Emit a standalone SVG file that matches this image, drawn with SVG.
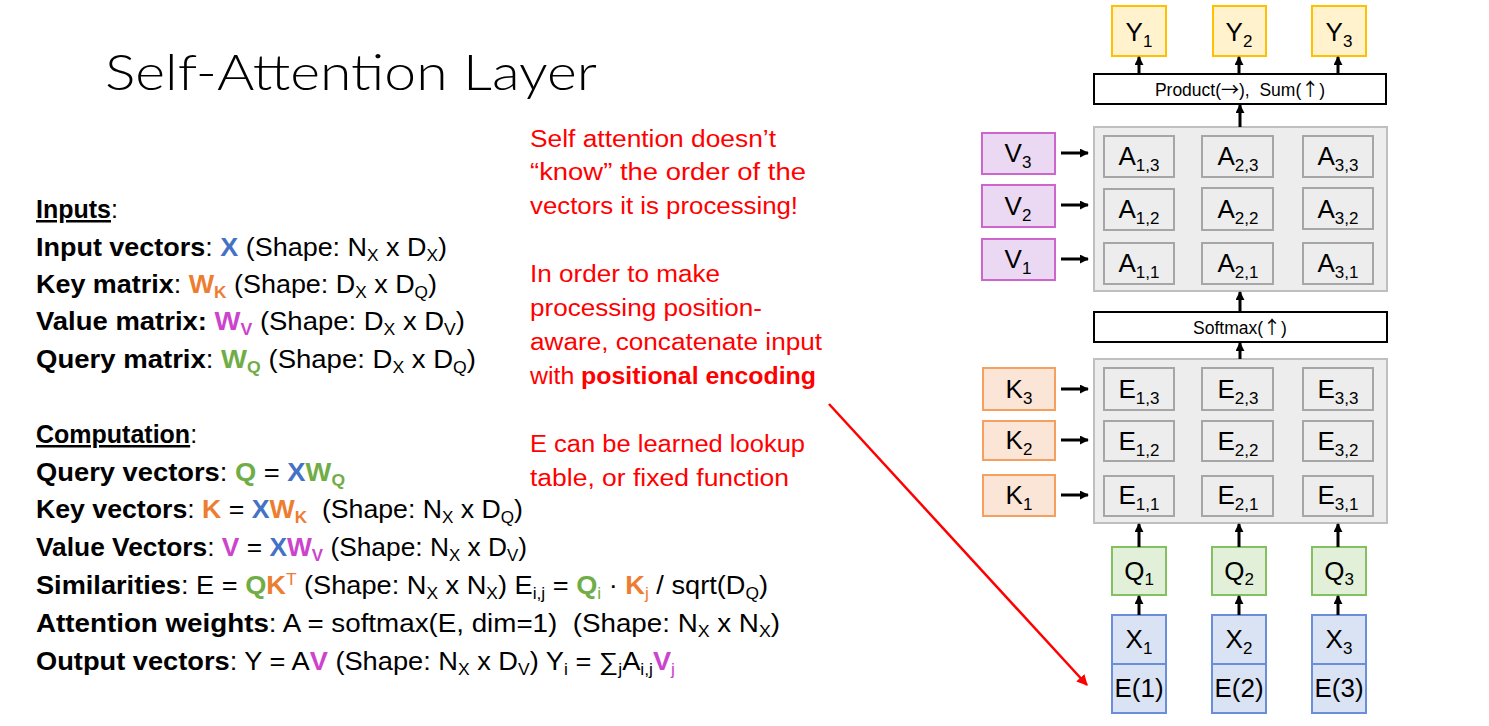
<svg xmlns="http://www.w3.org/2000/svg" width="1489" height="726" viewBox="0 0 1489 726">
<style>
text{font-family:"Liberation Sans",Arial,sans-serif;fill:#000}
.title{font-family:Lato,"Liberation Sans",sans-serif;font-weight:300;font-size:50px}
.t{font-size:25px}
.b{font-weight:bold}
.sb{font-size:16px}
.red{font-size:23.5px;fill:#FF0000}
.red tspan{fill:#FF0000}
.lab{font-size:26px;text-anchor:middle}
.ls{font-size:17px}
.op{font-size:17.5px;text-anchor:middle}
.ag{font-family:"Noto Sans CJK SC","DejaVu Sans",sans-serif;font-size:18px}
.gbox{fill:#EDEDED;stroke:#BFBFBF;stroke-width:2}
.cell{fill:#EDEDED;stroke:#A6A6A6;stroke-width:2}
.wbox{fill:#FFFFFF;stroke:#000;stroke-width:2}
.ybox{fill:#FFF2CC;stroke:#FFC000;stroke-width:2}
.vbox{fill:#EBD9F3;stroke:#CC66CC;stroke-width:2}
.kbox{fill:#FBE5D6;stroke:#F4A060;stroke-width:2}
.qbox{fill:#E2F0D9;stroke:#82C060;stroke-width:2}
.xbox{fill:#DAE3F3;stroke:#6A8FD8;stroke-width:2}
.arr{stroke:#000;stroke-width:3;fill:none;marker-end:url(#ah)}
.rarr{stroke:#FF0000;stroke-width:2.5;fill:none;marker-end:url(#rah)}
.cb{fill:#4472C4}.co{fill:#ED7D31}.cp{fill:#CC44CC}.cg{fill:#70AD47}
</style>
<defs>
<marker id="ah" viewBox="0 0 10 10" refX="9" refY="5" markerWidth="9" markerHeight="9" markerUnits="userSpaceOnUse" orient="auto"><path d="M0,0 L10,5 L0,10 z" fill="#000"/></marker>
<marker id="rah" viewBox="0 0 10 10" refX="9" refY="5" markerWidth="11" markerHeight="11" markerUnits="userSpaceOnUse" orient="auto"><path d="M0,0 L10,5 L0,10 z" fill="#FF0000"/></marker>
</defs>
<rect width="1489" height="726" fill="#FFFFFF"/>

<g id="title"><text class="title" x="105" y="90" textLength="492" lengthAdjust="spacingAndGlyphs">Self-Attention Layer</text></g>

<g id="left-text">
<text class="t" x="36" y="218"><tspan class="b" text-decoration="underline">Inputs</tspan>:</text>
<text class="t" x="36" y="256" textLength="411" lengthAdjust="spacingAndGlyphs" xml:space="preserve"><tspan class="b">Input vectors</tspan>: <tspan class="b cb">X</tspan> (Shape: N<tspan class="sb" dy="5">X</tspan><tspan dy="-5"> x D</tspan><tspan class="sb" dy="5">X</tspan><tspan dy="-5">)</tspan></text>
<text class="t" x="36" y="293" textLength="401" lengthAdjust="spacingAndGlyphs" xml:space="preserve"><tspan class="b">Key matrix</tspan>: <tspan class="b co">W</tspan><tspan class="b sb co" dy="5">K</tspan><tspan dy="-5"> (Shape: D</tspan><tspan class="sb" dy="5">X</tspan><tspan dy="-5"> x D</tspan><tspan class="sb" dy="5">Q</tspan><tspan dy="-5">)</tspan></text>
<text class="t" x="36" y="330" textLength="429" lengthAdjust="spacingAndGlyphs" xml:space="preserve"><tspan class="b">Value matrix: </tspan><tspan class="b cp">W</tspan><tspan class="b sb cp" dy="5">V</tspan><tspan dy="-5"> (Shape: D</tspan><tspan class="sb" dy="5">X</tspan><tspan dy="-5"> x D</tspan><tspan class="sb" dy="5">V</tspan><tspan dy="-5">)</tspan></text>
<text class="t" x="36" y="368" textLength="440" lengthAdjust="spacingAndGlyphs" xml:space="preserve"><tspan class="b">Query matrix</tspan>: <tspan class="b cg">W</tspan><tspan class="b sb cg" dy="5">Q</tspan><tspan dy="-5"> (Shape: D</tspan><tspan class="sb" dy="5">X</tspan><tspan dy="-5"> x D</tspan><tspan class="sb" dy="5">Q</tspan><tspan dy="-5">)</tspan></text>

<text class="t" x="36" y="443"><tspan class="b" text-decoration="underline">Computation</tspan>:</text>
<text class="t" x="36" y="481" textLength="309" lengthAdjust="spacingAndGlyphs" xml:space="preserve"><tspan class="b">Query vectors</tspan>: <tspan class="b cg">Q</tspan> = <tspan class="b cb">X</tspan><tspan class="b cg">W</tspan><tspan class="b sb cg" dy="5">Q</tspan></text>
<text class="t" x="36" y="518" textLength="487" lengthAdjust="spacingAndGlyphs" xml:space="preserve"><tspan class="b">Key vectors</tspan>: <tspan class="b co">K</tspan> = <tspan class="b cb">X</tspan><tspan class="b co">W</tspan><tspan class="b sb co" dy="5">K</tspan><tspan dy="-5">  (Shape: N</tspan><tspan class="sb" dy="5">X</tspan><tspan dy="-5"> x D</tspan><tspan class="sb" dy="5">Q</tspan><tspan dy="-5">)</tspan></text>
<text class="t" x="36" y="556" textLength="491" lengthAdjust="spacingAndGlyphs" xml:space="preserve"><tspan class="b">Value Vectors</tspan>: <tspan class="b cp">V</tspan> = <tspan class="b cb">X</tspan><tspan class="b cp">W</tspan><tspan class="b sb cp" dy="5">V</tspan><tspan dy="-5"> (Shape: N</tspan><tspan class="sb" dy="5">X</tspan><tspan dy="-5"> x D</tspan><tspan class="sb" dy="5">V</tspan><tspan dy="-5">)</tspan></text>
<text class="t" x="36" y="594" textLength="732" lengthAdjust="spacingAndGlyphs" xml:space="preserve"><tspan class="b">Similarities</tspan>: E = <tspan class="b cg">Q</tspan><tspan class="b co">K</tspan><tspan class="sb co" dy="-9">T</tspan><tspan dy="9"> (Shape: N</tspan><tspan class="sb" dy="5">X</tspan><tspan dy="-5"> x N</tspan><tspan class="sb" dy="5">X</tspan><tspan dy="-5">) E</tspan><tspan class="sb" dy="5">i,j</tspan><tspan dy="-5"> = </tspan><tspan class="b cg">Q</tspan><tspan class="sb cg" dy="5">i</tspan><tspan dy="-5"> · </tspan><tspan class="b co">K</tspan><tspan class="sb co" dy="5">j</tspan><tspan dy="-5"> / sqrt(D</tspan><tspan class="sb" dy="5">Q</tspan><tspan dy="-5">)</tspan></text>
<text class="t" x="36" y="632" textLength="744" lengthAdjust="spacingAndGlyphs" xml:space="preserve"><tspan class="b">Attention weights</tspan>: A = softmax(E, dim=1)  (Shape: N<tspan class="sb" dy="5">X</tspan><tspan dy="-5"> x N</tspan><tspan class="sb" dy="5">X</tspan><tspan dy="-5">)</tspan></text>
<text class="t" x="36" y="670" textLength="639" lengthAdjust="spacingAndGlyphs" xml:space="preserve"><tspan class="b">Output vectors</tspan>: Y = A<tspan class="b cp">V</tspan> (Shape: N<tspan class="sb" dy="5">X</tspan><tspan dy="-5"> x D</tspan><tspan class="sb" dy="5">V</tspan><tspan dy="-5">) Y</tspan><tspan class="sb" dy="5">i</tspan><tspan dy="-5"> = ∑</tspan><tspan class="sb" dy="5">j</tspan><tspan dy="-5">A</tspan><tspan class="sb" dy="5">i,j</tspan><tspan class="b cp" dy="-5">V</tspan><tspan class="sb cp" dy="5">j</tspan></text>
</g>

<g id="note">
<text class="red" x="530" y="147" textLength="246" lengthAdjust="spacingAndGlyphs">Self attention doesn’t</text>
<text class="red" x="530" y="180" textLength="276" lengthAdjust="spacingAndGlyphs">“know” the order of the</text>
<text class="red" x="530" y="214" textLength="268" lengthAdjust="spacingAndGlyphs">vectors it is processing!</text>
<text class="red" x="530" y="282" textLength="190" lengthAdjust="spacingAndGlyphs">In order to make</text>
<text class="red" x="530" y="316" textLength="232" lengthAdjust="spacingAndGlyphs">processing position-</text>
<text class="red" x="530" y="350" textLength="292" lengthAdjust="spacingAndGlyphs">aware, concatenate input</text>
<text class="red" x="530" y="384" textLength="286" lengthAdjust="spacingAndGlyphs">with <tspan class="b">positional encoding</tspan></text>
<text class="red" x="530" y="452" textLength="275" lengthAdjust="spacingAndGlyphs">E can be learned lookup</text>
<text class="red" x="530" y="486" textLength="259" lengthAdjust="spacingAndGlyphs">table, or fixed function</text>
</g>

<g id="Y1"><rect class="ybox" x="1112" y="6" width="54" height="50"/><text class="lab" x="1139" y="41">Y<tspan class="ls" dy="6">1</tspan></text></g>
<g id="Y2"><rect class="ybox" x="1213" y="6" width="53" height="50"/><text class="lab" x="1239" y="41">Y<tspan class="ls" dy="6">2</tspan></text></g>
<g id="Y3"><rect class="ybox" x="1312" y="6" width="54" height="50"/><text class="lab" x="1339" y="41">Y<tspan class="ls" dy="6">3</tspan></text></g>

<g id="product"><rect class="wbox" x="1094" y="74" width="292" height="30"/><text class="op" x="1240" y="96" xml:space="preserve">Product(<tspan class="ag">→</tspan>),  Sum(<tspan class="ag">↑</tspan>)</text></g>

<g id="A-matrix">
<rect class="gbox" x="1094" y="127" width="293" height="164"/>
<rect class="cell" x="1104" y="136" width="70" height="41"/><text class="lab" x="1139" y="165">A<tspan class="ls" dy="6">1,3</tspan></text>
<rect class="cell" x="1202" y="136" width="71" height="41"/><text class="lab" x="1238" y="165">A<tspan class="ls" dy="6">2,3</tspan></text>
<rect class="cell" x="1303" y="136" width="70" height="41"/><text class="lab" x="1338" y="165">A<tspan class="ls" dy="6">3,3</tspan></text>
<rect class="cell" x="1104" y="189" width="70" height="41"/><text class="lab" x="1139" y="218">A<tspan class="ls" dy="6">1,2</tspan></text>
<rect class="cell" x="1202" y="188" width="71" height="42"/><text class="lab" x="1238" y="218">A<tspan class="ls" dy="6">2,2</tspan></text>
<rect class="cell" x="1303" y="188" width="70" height="41"/><text class="lab" x="1338" y="218">A<tspan class="ls" dy="6">3,2</tspan></text>
<rect class="cell" x="1104" y="243" width="70" height="41"/><text class="lab" x="1139" y="272">A<tspan class="ls" dy="6">1,1</tspan></text>
<rect class="cell" x="1202" y="243" width="71" height="41"/><text class="lab" x="1238" y="272">A<tspan class="ls" dy="6">2,1</tspan></text>
<rect class="cell" x="1303" y="243" width="70" height="41"/><text class="lab" x="1338" y="272">A<tspan class="ls" dy="6">3,1</tspan></text>
</g>

<g id="V3"><rect class="vbox" x="982" y="133" width="73" height="41"/><text class="lab" x="1018" y="162">V<tspan class="ls" dy="6">3</tspan></text></g>
<g id="V2"><rect class="vbox" x="982" y="185" width="73" height="42"/><text class="lab" x="1018" y="215">V<tspan class="ls" dy="6">2</tspan></text></g>
<g id="V1"><rect class="vbox" x="982" y="239" width="73" height="41"/><text class="lab" x="1018" y="268">V<tspan class="ls" dy="6">1</tspan></text></g>

<g id="softmax"><rect class="wbox" x="1094" y="312" width="293" height="30"/><text class="op" x="1240" y="334">Softmax(<tspan class="ag">↑</tspan>)</text></g>

<g id="E-matrix">
<rect class="gbox" x="1094" y="359" width="293" height="164"/>
<rect class="cell" x="1104" y="368" width="70" height="42"/><text class="lab" x="1139" y="398">E<tspan class="ls" dy="6">1,3</tspan></text>
<rect class="cell" x="1202" y="368" width="71" height="42"/><text class="lab" x="1238" y="398">E<tspan class="ls" dy="6">2,3</tspan></text>
<rect class="cell" x="1303" y="368" width="70" height="42"/><text class="lab" x="1338" y="398">E<tspan class="ls" dy="6">3,3</tspan></text>
<rect class="cell" x="1104" y="421" width="70" height="40"/><text class="lab" x="1139" y="450">E<tspan class="ls" dy="6">1,2</tspan></text>
<rect class="cell" x="1202" y="421" width="71" height="40"/><text class="lab" x="1238" y="450">E<tspan class="ls" dy="6">2,2</tspan></text>
<rect class="cell" x="1303" y="421" width="70" height="40"/><text class="lab" x="1338" y="450">E<tspan class="ls" dy="6">3,2</tspan></text>
<rect class="cell" x="1104" y="476" width="70" height="40"/><text class="lab" x="1139" y="504">E<tspan class="ls" dy="6">1,1</tspan></text>
<rect class="cell" x="1202" y="476" width="71" height="40"/><text class="lab" x="1238" y="504">E<tspan class="ls" dy="6">2,1</tspan></text>
<rect class="cell" x="1303" y="476" width="70" height="40"/><text class="lab" x="1338" y="504">E<tspan class="ls" dy="6">3,1</tspan></text>
</g>

<g id="K3"><rect class="kbox" x="983" y="368" width="72" height="42"/><text class="lab" x="1019" y="398">K<tspan class="ls" dy="6">3</tspan></text></g>
<g id="K2"><rect class="kbox" x="983" y="421" width="72" height="39"/><text class="lab" x="1019" y="449">K<tspan class="ls" dy="6">2</tspan></text></g>
<g id="K1"><rect class="kbox" x="983" y="475" width="72" height="41"/><text class="lab" x="1019" y="504">K<tspan class="ls" dy="6">1</tspan></text></g>

<g id="Q1"><rect class="qbox" x="1112" y="547" width="54" height="48"/><text class="lab" x="1139" y="580">Q<tspan class="ls" dy="5">1</tspan></text></g>
<g id="Q2"><rect class="qbox" x="1212" y="547" width="54" height="48"/><text class="lab" x="1239" y="580">Q<tspan class="ls" dy="5">2</tspan></text></g>
<g id="Q3"><rect class="qbox" x="1312" y="547" width="54" height="48"/><text class="lab" x="1339" y="580">Q<tspan class="ls" dy="5">3</tspan></text></g>

<g id="X1"><rect class="xbox" x="1112" y="615" width="54" height="49"/><text class="lab" x="1139" y="648">X<tspan class="ls" dy="6">1</tspan></text><rect class="xbox" x="1112" y="664" width="54" height="49"/><text class="lab" x="1139" y="697">E(1)</text></g>
<g id="X2"><rect class="xbox" x="1212" y="615" width="54" height="49"/><text class="lab" x="1239" y="648">X<tspan class="ls" dy="6">2</tspan></text><rect class="xbox" x="1212" y="664" width="54" height="49"/><text class="lab" x="1239" y="697">E(2)</text></g>
<g id="X3"><rect class="xbox" x="1312" y="615" width="54" height="49"/><text class="lab" x="1339" y="648">X<tspan class="ls" dy="6">3</tspan></text><rect class="xbox" x="1312" y="664" width="54" height="49"/><text class="lab" x="1339" y="697">E(3)</text></g>

<g id="connectors">
<line class="arr" x1="1139" y1="74" x2="1139" y2="57"/>
<line class="arr" x1="1239" y1="74" x2="1239" y2="57"/>
<line class="arr" x1="1338" y1="74" x2="1338" y2="57"/>
<line class="arr" x1="1240" y1="127" x2="1240" y2="105"/>
<line class="arr" x1="1240" y1="312" x2="1240" y2="292"/>
<line class="arr" x1="1240" y1="359" x2="1240" y2="343"/>
<line class="arr" x1="1061" y1="153" x2="1088" y2="153"/>
<line class="arr" x1="1061" y1="205" x2="1088" y2="205"/>
<line class="arr" x1="1061" y1="259" x2="1088" y2="259"/>
<line class="arr" x1="1061" y1="389" x2="1088" y2="389"/>
<line class="arr" x1="1061" y1="440" x2="1088" y2="440"/>
<line class="arr" x1="1061" y1="495" x2="1088" y2="495"/>
<line class="arr" x1="1139" y1="547" x2="1139" y2="524"/>
<line class="arr" x1="1239" y1="547" x2="1239" y2="524"/>
<line class="arr" x1="1338" y1="547" x2="1338" y2="524"/>
<line class="arr" x1="1139" y1="615" x2="1139" y2="596"/>
<line class="arr" x1="1239" y1="615" x2="1239" y2="596"/>
<line class="arr" x1="1338" y1="615" x2="1338" y2="596"/>
<line class="rarr" x1="829" y1="404" x2="1087" y2="685"/>
</g>
</svg>
